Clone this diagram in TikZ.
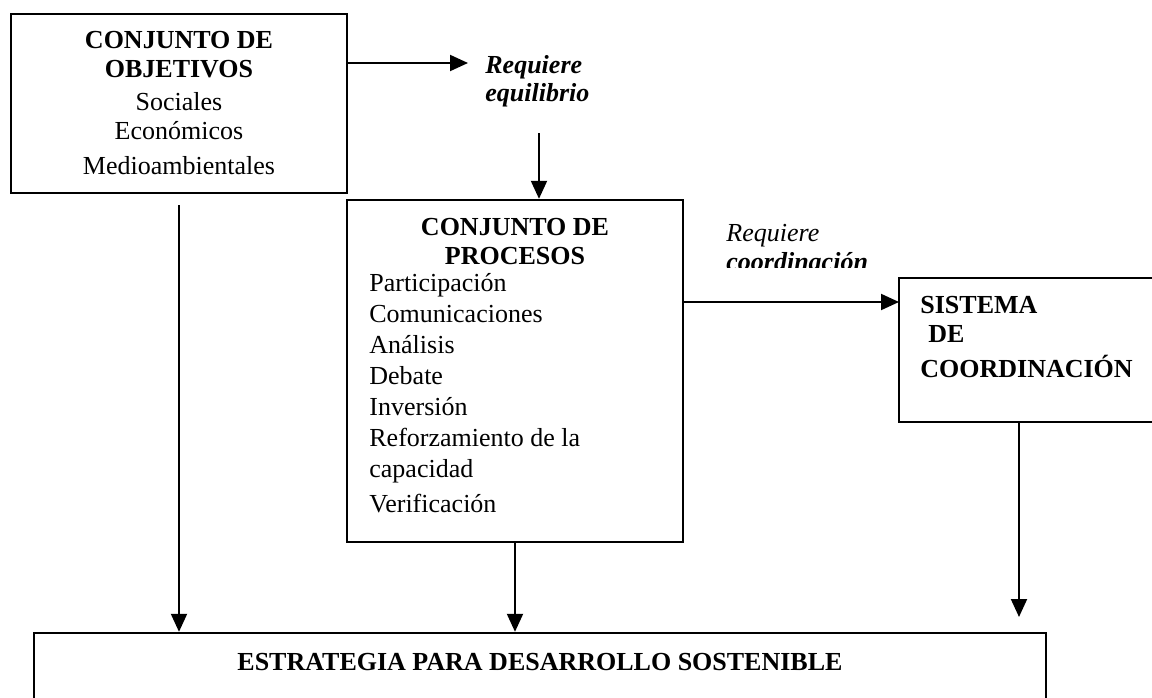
\documentclass[tikz,border=0pt]{standalone}
\usepackage{fontspec}
\setmainfont{Liberation Serif}
\usetikzlibrary{arrows.meta,fit}

\begin{document}
\begin{tikzpicture}[x=0.5pt, y=-0.5pt,
    caja/.style={draw, line width=1.2pt, inner sep=0pt},
    flecha/.style={line width=1pt, -{Triangle[length=9pt,width=8pt]}},
    texto/.style={inner sep=0pt, font=\fontsize{13}{14.5}\selectfont}]
    \useasboundingbox (0,0) rectangle (1152,697);

    % Boxes
    \node[caja, fit={(11,14) (347,193)}] (Objetivos) {};
    \node[caja, fit={(347,200) (683,542)}] (Procesos) {};
    \node[caja, fit={(899,278) (1170,422)}] (Sistema) {};
    \node[caja, fit={(34,633) (1046,720)}] (Estrategia) {};

    % Box texts (base = last line)
    \node[texto, align=center, anchor=base] (ObjetivosTxt) at (179,174)
        {\textbf{CONJUNTO DE}\\\textbf{OBJETIVOS}\\[2pt]Sociales\\Económicos\\[3pt]Medioambientales};
    \node[texto, align=center, anchor=base] (ProcesosTxt) at (515,264)
        {\textbf{CONJUNTO DE}\\\textbf{PROCESOS}};
    \node[texto, align=left, anchor=base west, font=\fontsize{13}{15.5}\selectfont] (ProcesosLista) at (369,512)
        {Participación\\Comunicaciones\\Análisis\\Debate\\Inversión\\Reforzamiento de la\\capacidad\\[2pt]Verificación};
    \node[texto, align=left, anchor=base west, font=\bfseries\fontsize{13}{14.5}\selectfont] (SistemaTxt) at (920,377)
        {SISTEMA\\\hspace*{4pt}DE\\[3pt]COORDINACIÓN};
    \node[texto, anchor=base, font=\bfseries\fontsize{13}{14.5}\selectfont] (EstrategiaTxt) at (540,670)
        {ESTRATEGIA PARA DESARROLLO SOSTENIBLE};

    % Connector labels
    \node[texto, align=left, anchor=base west, font=\bfseries\itshape\fontsize{13}{14}\selectfont] (Equilibrio) at (485,101)
        {Requiere\\equilibrio};
    \node[texto, anchor=base west, font=\itshape\fontsize{13}{14}\selectfont] (Requiere) at (726,241) {Requiere};
    \begin{scope}
        \clip (700,245) rectangle (900,267);
        \node[texto, anchor=base west, font=\bfseries\itshape\fontsize{13}{14}\selectfont] (Coordinacion) at (726,270) {coordinación};
    \end{scope}

    % Arrow ends
    \coordinate (EquilibrioTip) at (468,63);
    \coordinate (EquilibrioOut) at (539,133);
    \coordinate (CoordinacionTip) at (899,302);
    \coordinate (SistemaOut) at (1019,617);
    \coordinate (ObjetivosOut) at (179,205);

    % Arrows
    \draw[flecha] (EquilibrioTip -| Objetivos.east) -- (EquilibrioTip);
    \draw[flecha] (EquilibrioOut) -- (EquilibrioOut |- Procesos.north);
    \draw[flecha] (CoordinacionTip -| Procesos.east) -- (CoordinacionTip);
    \draw[flecha] (SistemaOut |- Sistema.south) -- (SistemaOut);
    \draw[flecha] (ObjetivosOut) -- (ObjetivosOut |- Estrategia.north);
    \draw[flecha] (Procesos.south) -- (Procesos.south |- Estrategia.north);
\end{tikzpicture}
\end{document}
